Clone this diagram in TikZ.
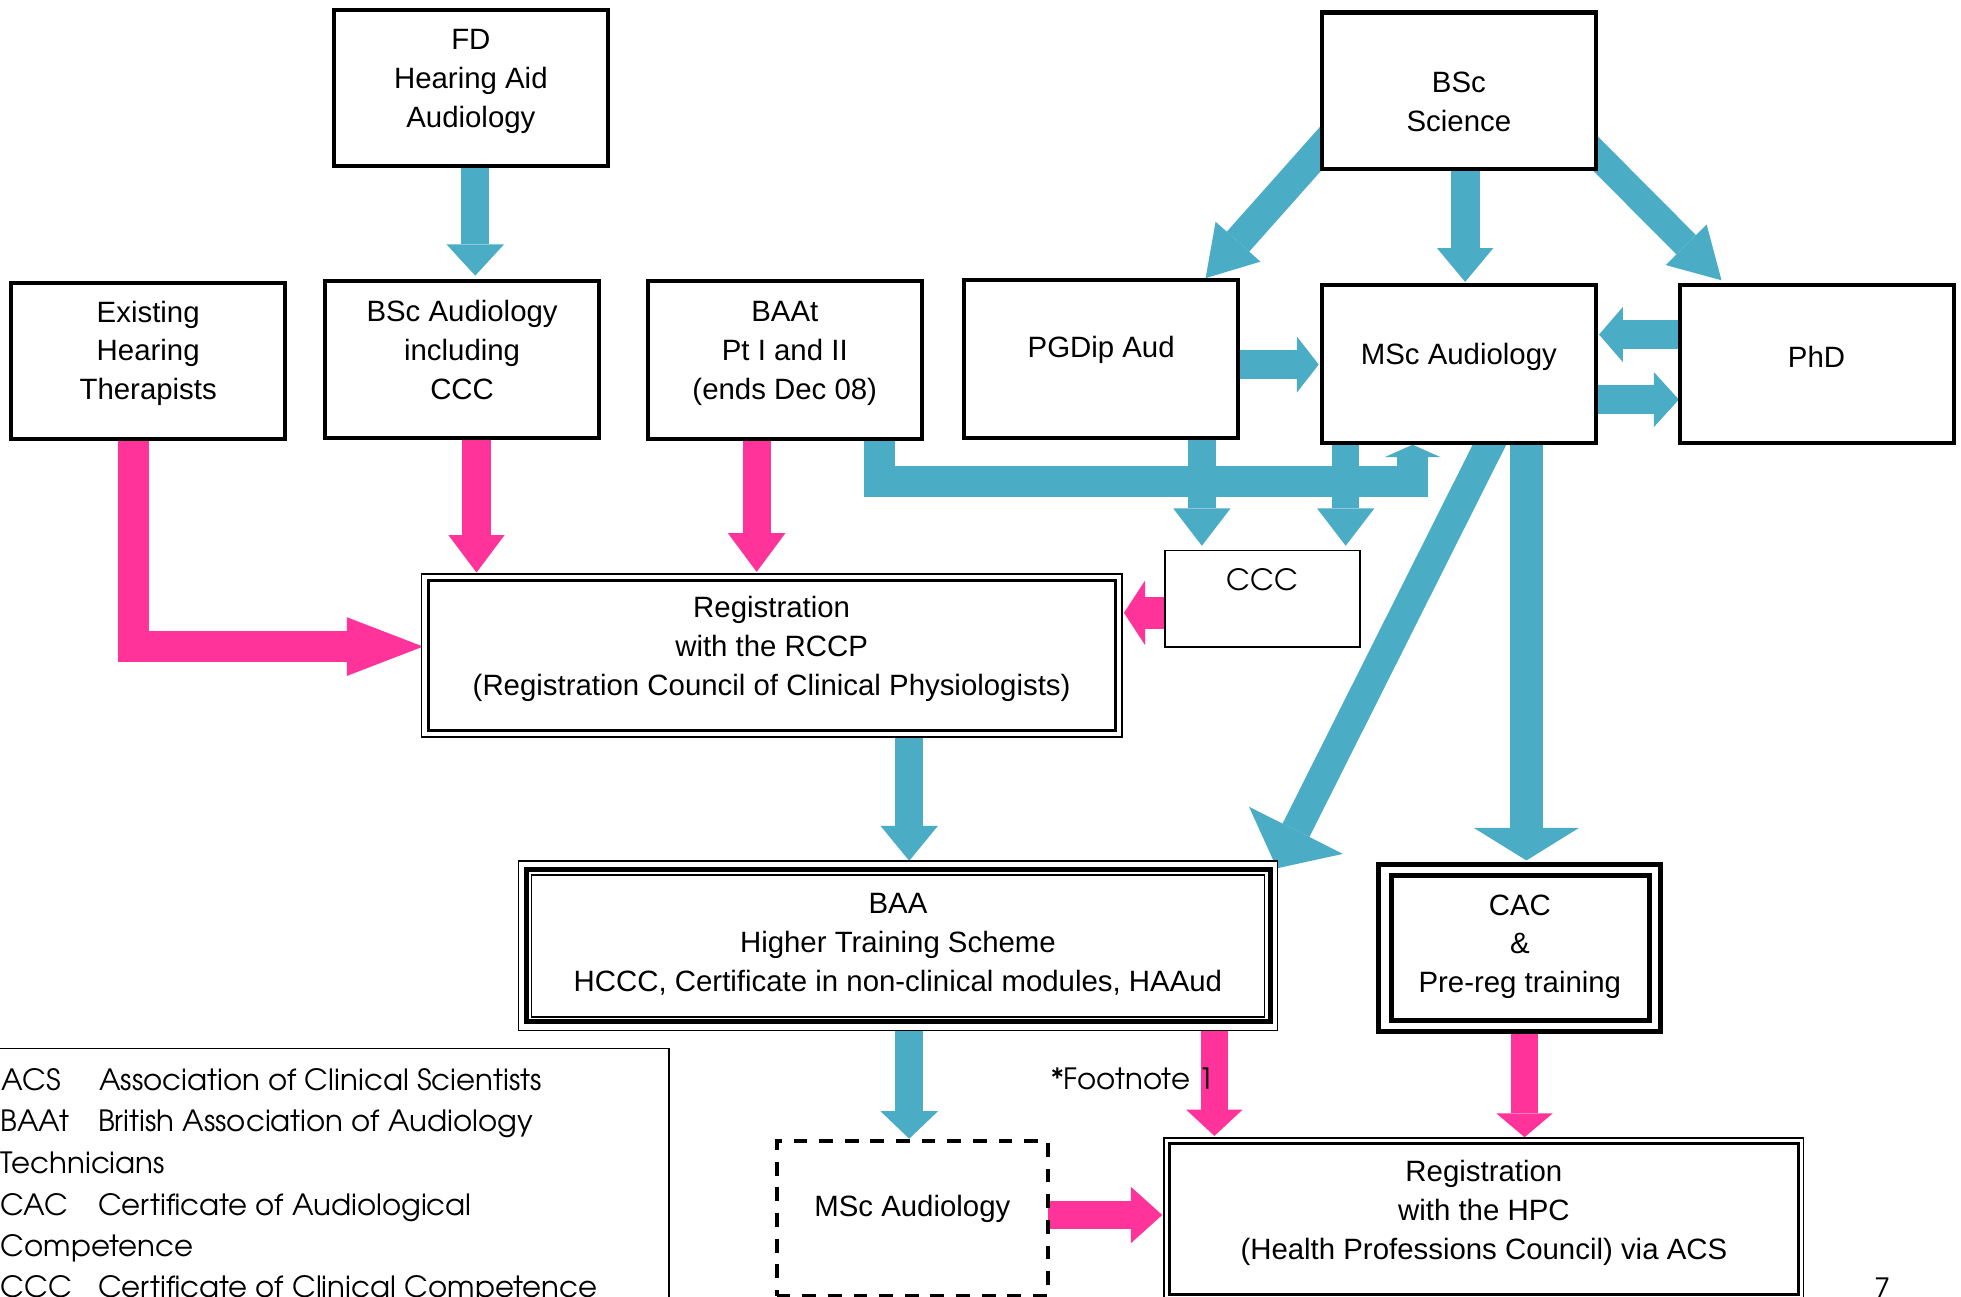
\documentclass[tikz,border=0pt]{standalone}
\usepackage{fontspec}
\setmainfont{Liberation Sans}
\newfontfamily\gothic{texgyreadventor-regular.otf}
\usetikzlibrary{arrows.meta,calc}
\definecolor{aqua}{RGB}{75,172,198}
\definecolor{rose}{RGB}{255,51,153}
\pgfdeclarelayer{background}
\pgfsetlayers{background,main}
\begin{document}
\begin{tikzpicture}[x=0.5pt,y=-0.5pt,
  box/.style={draw=black, line width=1.6pt, fill=white, inner sep=0pt, minimum width=109.5pt, minimum height=62.5pt},
  frame/.style={draw=black, inner sep=0pt},
  txt/.style={font=\fontsize{11.75pt}{15.5pt}\selectfont, align=center, inner sep=0pt},
  gtxt/.style={font=\gothic\fontsize{11.7pt}{16.5pt}\selectfont, inner sep=0pt},
  blk/.style n args={4}{draw=#1, line width=#2, line join=miter, -{Triangle[width=#3,length=#4,line width=0pt]}}
]
\useasboundingbox (0,0) rectangle (1568,1037);

% ---------- boxes ----------
\node[box] (fd) at (376.5,70.5) {};
\node[box] (bscsci) at (1166.5,72.5) {};
\node[box] (eht) at (118.5,288.5) {};
\node[box] (bscaud) at (369.5,287.5) {};
\node[box, minimum height=63pt] (baat) at (627.5,288) {};
\node[box, minimum height=63pt] (pgdip) at (880.5,287) {};
\node[box, minimum height=63pt] (mscaud) at (1166.5,291) {};
\node[box, minimum height=63pt] (phd) at (1452.5,291) {};
\node[frame, fill=white, line width=0.6pt, minimum width=78pt, minimum height=38.75pt] (ccc) at (1009.5,478.75) {};

\node[frame, fill=white, line width=0.7pt, minimum width=280pt, minimum height=65pt] (rccp) at (617,524) {};
\node[frame, line width=1.25pt, minimum width=274.75pt, minimum height=60pt] (rccpi) at (617.25,524) {};

\node[frame, fill=white, line width=0.7pt, minimum width=303.5pt, minimum height=67.75pt] (baa) at (718,756.25) {};
\node[frame, line width=2pt, minimum width=297.5pt, minimum height=61pt] (baam) at (718.5,756) {};
\node[frame, line width=0.7pt, minimum width=293pt, minimum height=56.75pt] (baai) at (718,756.25) {};

\node[frame, fill=white, line width=2pt, minimum width=112.75pt, minimum height=67pt] (cac) at (1215.25,758) {};
\node[frame, line width=2pt, minimum width=103.25pt, minimum height=58pt] (caci) at (1215.75,758) {};

\node[frame, fill=white, line width=1.5pt, dash pattern=on 5.5pt off 4.75pt, minimum width=108.5pt, minimum height=61.75pt] (mscd) at (729.5,974.25) {};

\node[frame, fill=white, line width=0.7pt, minimum width=255.5pt, minimum height=64.5pt] (hpc) at (1186.5,974.5) {};
\node[frame, line width=1.25pt, minimum width=251.5pt, minimum height=60.25pt] (hpci) at (1186.5,974.75) {};

\node[frame, line width=0.6pt, minimum width=269pt, minimum height=103pt] (legend) at (266,941.5) {};

% ---------- texts ----------
\node[txt] (fdt) at (376.5,65) {FD\\Hearing Aid\\Audiology};
\node[txt] (bscscit) at (1166.5,81.5) {BSc\\Science};
\node[txt] (ehtt) at (118.5,282.5) {Existing\\Hearing\\Therapists};
\node[txt] (bscaudt) at (369.5,280) {BSc Audiology\\including\\CCC};
\node[txt] (baatt) at (627.5,282.5) {BAAt\\Pt I and II\\(ends Dec 08)};
\node[txt] (pgdipt) at (880.5,280) {PGDip Aud};
\node[txt] (mscaudt) at (1166.5,285) {MSc Audiology};
\node[txt] (phdt) at (1452.5,285) {PhD};
\node[gtxt] (ccct) at (1009.5,463.5) {CCC};
\node[txt] (rccpt) at (617,519) {Registration\\with the RCCP\\(Registration Council of Clinical Physiologists)};
\node[txt] (baat2) at (718,755) {BAA\\Higher Training Scheme\\HCCC, Certificate in non-clinical modules, HAAud};
\node[txt] (cact) at (1215.25,757) {CAC\\\&\\Pre-reg training};
\node[txt] (mscdt) at (729.5,967) {MSc Audiology};
\node[txt] (hpct) at (1186.5,970) {Registration\\with the HPC\\(Health Professions Council) via ACS};

\node[gtxt, anchor=base west] (lg1) at (1,872) {\makebox[39pt][l]{ACS}Association of Clinical Scientists};
\node[gtxt, anchor=base west] (lg2) at (0,905) {\makebox[39pt][l]{BAAt}British Association of Audiology};
\node[gtxt, anchor=base west] (lg3) at (0,938) {Technicians};
\node[gtxt, anchor=base west] (lg4) at (0,971.5) {\makebox[39pt][l]{CAC}Certificate of Audiological};
\node[gtxt, anchor=base west] (lg5) at (0,1005) {Competence};
\node[gtxt, anchor=base west] (lg6) at (0,1037.5) {\makebox[39pt][l]{CCC}Certificate of Clinical Competence};

\node[gtxt, anchor=west] (foot) at (840,862.5) {*Footnote 1};
\node[gtxt, anchor=base] (pagenum) at (1505.5,1039) {7};

% ---------- arrows ----------
\begin{pgfonlayer}{background}
% blue
\draw[blk={aqua}{11pt}{23pt}{12.5pt}] ($(fd.south)+(3.5,-5)$) -- ($(bscaud.north)+(10.5,-3)$);
\draw[blk={aqua}{12pt}{24pt}{19.5pt}] ($(bscsci.center)+(-95.5,29.5)$) -- ($(pgdip.north)+(83.5,0)$);
\draw[blk={aqua}{11.5pt}{22.5pt}{13.5pt}] ($(bscsci.south)+(5,-5)$) -- ($(mscaud.north)+(5,-1)$);
\draw[blk={aqua}{11pt}{23pt}{20pt}] ($(bscsci.center)+(94.5,35.5)$) -- ($(phd.north)+(-76,-2.3)$);
\draw[blk={aqua}{11.5pt}{22.5pt}{8.75pt}] ($(pgdip.east)+(-5,4.5)$) -- ($(mscaud.west)+(-1,0.5)$);
\draw[blk={aqua}{11.5pt}{22pt}{9.5pt}] ($(phd.west)+(5,-23.5)$) -- ($(mscaud.east)+(1,-23.5)$);
\draw[blk={aqua}{11.5pt}{22pt}{10pt}] ($(mscaud.east)+(-5,28.5)$) -- ($(phd.west)+(1,28.5)$);
\draw[blk={aqua}{12.5pt}{22.5pt}{5pt}] ($(baat.south)+(76,-5)$) |- ($(mscaud.south)+(-37,29.5)$) -- ($(mscaud.south)+(-37,0)$);
\draw[blk={aqua}{11pt}{23pt}{15pt}] ($(pgdip.south)+(80.5,-5)$) -- ($(ccc.north)+(-48.5,-3)$);
\draw[blk={aqua}{11pt}{23pt}{15pt}] ($(mscaud.south)+(-90.5,-5)$) -- ($(ccc.north)+(66.5,-3)$);
\draw[blk={aqua}{12pt}{42pt}{17pt}] ($(mscaud.south)+(31.2,-13.4)$) -- ($(baa.north)+(303,6.5)$);
\draw[blk={aqua}{13.5pt}{42pt}{13pt}] ($(mscaud.south)+(54,-5)$) -- ($(cac.north)+(5.25,-1)$);
\draw[blk={aqua}{11pt}{23pt}{14pt}] ($(rccp.south)+(110,-5)$) -- ($(baa.north)+(9,0.5)$);
\draw[blk={aqua}{11pt}{23pt}{11pt}] ($(baa.south)+(9,-5)$) -- ($(mscd.north)+(-2.5,-0.5)$);
% pink
\draw[blk={rose}{12.5pt}{23.5pt}{30.5pt}] ($(eht.south)+(-12,-5)$) |- ($(rccp.west)+(2,-7)$);
\draw[blk={rose}{11.25pt}{22.5pt}{15pt}] ($(bscaud.south)+(11.5,-5)$) -- ($(rccp.north)+(-236,-0.5)$);
\draw[blk={rose}{11.25pt}{23pt}{15.5pt}] ($(baat.south)+(-22.5,-5)$) -- ($(rccp.north)+(-12,-1)$);
\draw[blk={rose}{13pt}{26pt}{8.5pt}] ($(ccc.west)+(5,11.25)$) -- ($(rccp.east)+(1,-34)$);
\draw[blk={rose}{11pt}{22.5pt}{10.5pt}] ($(baa.south)+(253,-5)$) -- ($(hpc.north)+(-215.5,-1)$);
\draw[blk={rose}{11pt}{22.5pt}{9.5pt}] ($(cac.south)+(3.75,-5)$) -- ($(hpc.north)+(32.5,0)$);
\draw[blk={rose}{11.5pt}{22.5pt}{12.5pt}] ($(mscd.east)+(-5,-2.75)$) -- ($(hpc.west)+(-1,-3)$);
\end{pgfonlayer}
\end{tikzpicture}
\end{document}
